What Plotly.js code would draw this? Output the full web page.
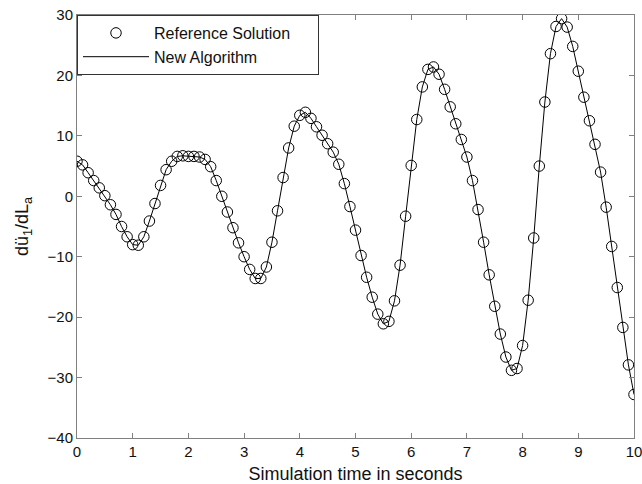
<!DOCTYPE html>
<html>
<head>
<meta charset="utf-8">
<script src="https://cdn.plot.ly/plotly-3.0.1.min.js"></script>
<style>html,body{margin:0;padding:0;background:#fff;}#chart{width:642px;height:484px;}</style>
</head>
<body>
<div id="chart"></div>
<script>
const timeSec = [0.0,0.1,0.2,0.3,0.4,0.5,0.6,0.7,0.8,0.9,1.0,1.1,1.2,1.3,1.4,1.5,1.6,1.7,1.8,1.9,2.0,2.1,2.2,2.3,2.4,2.5,2.6,2.7,2.8,2.9,3.0,3.1,3.2,3.3,3.4,3.5,3.6,3.7,3.8,3.9,4.0,4.1,4.2,4.3,4.4,4.5,4.6,4.7,4.8,4.9,5.0,5.1,5.2,5.3,5.4,5.5,5.6,5.7,5.8,5.9,6.0,6.1,6.2,6.3,6.4,6.5,6.6,6.7,6.8,6.9,7.0,7.1,7.2,7.3,7.4,7.5,7.6,7.7,7.8,7.9,8.0,8.1,8.2,8.3,8.4,8.5,8.6,8.7,8.8,8.9,9.0,9.1,9.2,9.3,9.4,9.5,9.6,9.7,9.8,9.9,10.0];
const referenceSolution = [5.8,5.2,3.9,2.6,1.4,0.1,-1.4,-3.0,-5.0,-6.7,-8.0,-8.1,-6.7,-4.1,-1.2,1.8,4.4,5.8,6.6,6.7,6.6,6.6,6.5,6.1,4.9,2.6,0.0,-2.6,-5.2,-7.7,-10.0,-12.1,-13.6,-13.6,-11.7,-7.6,-2.4,3.1,8.0,11.6,13.4,13.9,12.9,11.5,10.1,8.7,7.3,5.3,2.1,-1.7,-5.6,-9.8,-13.4,-16.7,-19.5,-21.1,-20.7,-17.3,-11.4,-3.3,5.1,12.7,18.1,21.0,21.4,20.2,17.7,14.8,12.0,9.4,6.5,2.6,-2.2,-7.6,-13.0,-18.2,-22.8,-26.6,-28.8,-28.5,-24.7,-17.2,-6.9,5.0,15.6,23.6,28.1,29.4,28.0,24.8,20.7,16.4,12.5,8.6,4.0,-1.8,-8.3,-15.1,-21.7,-27.9,-32.8];
const newAlgorithm = [5.8,5.2,3.9,2.6,1.4,0.1,-1.4,-3.0,-5.0,-6.7,-8.0,-8.1,-6.7,-4.1,-1.2,1.8,4.4,5.8,6.6,6.7,6.6,6.6,6.5,6.1,4.9,2.6,0.0,-2.6,-5.2,-7.7,-10.0,-12.1,-13.6,-13.6,-11.7,-7.6,-2.4,3.1,8.0,11.6,13.4,13.9,12.9,11.5,10.1,8.7,7.3,5.3,2.1,-1.7,-5.6,-9.8,-13.4,-16.7,-19.5,-21.1,-20.7,-17.3,-11.4,-3.3,5.1,12.7,18.1,21.0,21.4,20.2,17.7,14.8,12.0,9.4,6.5,2.6,-2.2,-7.6,-13.0,-18.2,-22.8,-26.6,-28.8,-28.5,-24.7,-17.2,-6.9,5.0,15.6,23.6,28.1,29.4,28.0,24.8,20.7,16.4,12.5,8.6,4.0,-1.8,-8.3,-15.1,-21.7,-27.9,-32.8];
const xTickVals = [0,1,2,3,4,5,6,7,8,9,10];
const yTickVals = [-40,-30,-20,-10,0,10,20,30];

const font = "Liberation Sans, Arial, Helvetica, sans-serif";
const traces = [
  {x: timeSec, y: referenceSolution, type: 'scatter', mode: 'markers', name: 'Reference Solution\u00a0\u00a0\u00a0\u00a0\u00a0',
   marker: {symbol: 'circle-open', size: 10.5, color: '#000', line: {width: 1, color: '#000'}}},
  {x: timeSec, y: newAlgorithm, type: 'scatter', mode: 'lines', name: 'New Algorithm',
   line: {color: '#000', width: 1}}
];
const axisCommon = {showgrid: false, zeroline: false, showline: true, linecolor: '#808080', linewidth: 1,
  mirror: 'ticks', ticks: 'inside', ticklen: 5, tickcolor: '#808080', ticklabeloverflow: 'allow',
  tickfont: {family: font, size: 15, color: '#111'}};
const layout = {
  width: 642, height: 484,
  margin: {l: 77, r: 8, t: 15, b: 46},
  paper_bgcolor: '#fff', plot_bgcolor: '#fff',
  font: {family: font, color: '#111'},
  showlegend: true,
  legend: {x: 0, y: 1, xanchor: 'left', yanchor: 'top', bgcolor: '#fff', bordercolor: '#333', borderwidth: 1,
    font: {family: font, size: 16, color: '#111'}, itemwidth: 66, tracegroupgap: 0},
  xaxis: Object.assign({}, axisCommon, {range: [0, 10], tickvals: xTickVals, ticktext: xTickVals.map(String),
    title: {text: 'Simulation time in seconds', font: {family: font, size: 18, color: '#111'}, standoff: 10}}),
  yaxis: Object.assign({}, axisCommon, {range: [-40, 30], tickvals: yTickVals,
    title: {text: 'dü<sub>1</sub>/dL<sub>a</sub>', font: {family: font, size: 18, color: '#111'}, standoff: 14}})
};
Plotly.newPlot('chart', traces, layout, {staticPlot: true});
</script>
</body>
</html>
